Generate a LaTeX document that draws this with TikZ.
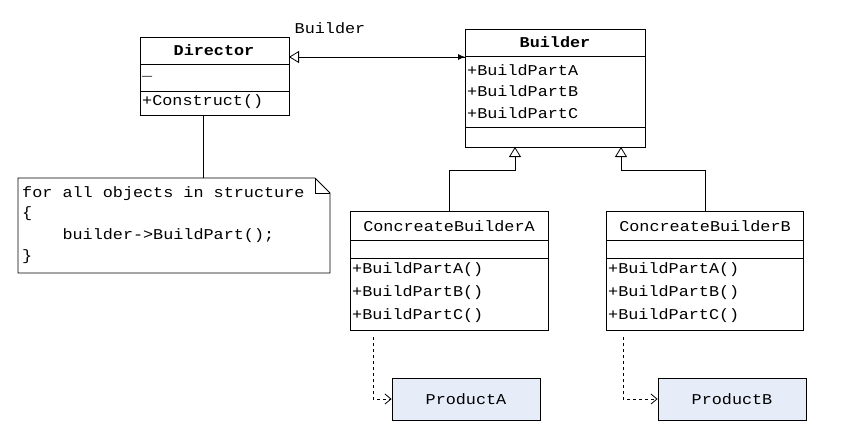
\documentclass[tikz,border=0pt]{standalone}
\usepackage{fontspec}
\setmonofont{Liberation Mono}[FakeStretch=1.12]
\usetikzlibrary{arrows.meta,positioning,shapes.misc}
\definecolor{prodBlue}{RGB}{230,236,248}
\begin{document}
\begin{tikzpicture}[x=1pt,y=-1pt,
    boxStyle/.style={draw, thick, inner sep=0pt, anchor=north west},
    txtStyle/.style={font=\ttfamily\fontsize{15}{17}\selectfont, inner sep=1pt},
    opStyle/.style={txtStyle, anchor=west},
    prodStyle/.style={draw, thick, fill=prodBlue, minimum width=148pt, minimum height=42pt, font=\ttfamily\fontsize{15}{17}\selectfont},
    inherit/.style={thick, -{Triangle[open, length=10pt, width=12pt]}},
    depend/.style={thick, dashed, -{Straight Barb[length=6pt, width=10pt]}}]
    \useasboundingbox (0,0) rectangle (859,437);

    % Director
    \node[boxStyle, minimum width=149pt, minimum height=78pt] (dir) at (140,37) {};
    \draw[thick] (140,64) -- (289,64);
    \draw[thick] (140,91) -- (289,91);
    \node[txtStyle, font=\ttfamily\bfseries\fontsize{15}{17}\selectfont] (dirName) at (214,50) {Director};
    \node[opStyle] (dirAttr) at (141,76) {\_};
    \node[opStyle] (dirOp) at (141,102) {+Construct()};

    % Builder
    \node[boxStyle, minimum width=180pt, minimum height=118pt] (bld) at (465,29) {};
    \draw[thick] (465,56) -- (645,56);
    \draw[thick] (465,127) -- (645,127);
    \node[txtStyle, font=\ttfamily\bfseries\fontsize{15}{17}\selectfont] (bldName) at (555,42) {Builder};
    \node[opStyle] (bldA) at (466,70) {+BuildPartA};
    \node[opStyle] (bldB) at (466,91) {+BuildPartB};
    \node[opStyle] (bldC) at (466,113) {+BuildPartC};
    \node[txtStyle] (assocLbl) at (330,28) {Builder};

    % Note
    \coordinate (n1) at (18,178);
    \coordinate (n2) at (315,178);
    \coordinate (n3) at (330,193);
    \coordinate (n4) at (330,273);
    \coordinate (n5) at (18,273);
    \draw[thick] (n1) -- (n2) -- (n3) -- (n4) -- (n5) -- cycle;
    \draw[thick] (n2) -- (315,193) -- (n3);
    \node[opStyle] (noteL1) at (21,194) {for all objects in structure};
    \node[opStyle] (noteL2) at (21,214) {\{};
    \node[opStyle] (noteL3) at (21,236) {\ \ \ \ builder->BuildPart();};
    \node[opStyle] (noteL4) at (21,257) {\}};
    \coordinate (dirBot) at (203,115);
    \coordinate (noteTop) at (203,178);
    \draw[thick] (dirBot) -- (noteTop);

    % ConcreateBuilderA
    \node[boxStyle, minimum width=198pt, minimum height=119pt] (cba) at (350,211) {};
    \draw[thick] (350,240) -- (548,240);
    \draw[thick] (350,258) -- (548,258);
    \node[txtStyle] (cbaName) at (449,226) {ConcreateBuilderA};
    \node[opStyle] (cbaA) at (351,270) {+BuildPartA()};
    \node[opStyle] (cbaB) at (351,293) {+BuildPartB()};
    \node[opStyle] (cbaC) at (351,316) {+BuildPartC()};

    % ConcreateBuilderB
    \node[boxStyle, minimum width=197pt, minimum height=119pt] (cbb) at (606,211) {};
    \draw[thick] (606,240) -- (803,240);
    \draw[thick] (606,258) -- (803,258);
    \node[txtStyle] (cbbName) at (705,226) {ConcreateBuilderB};
    \node[opStyle] (cbbA) at (607,270) {+BuildPartA()};
    \node[opStyle] (cbbB) at (607,293) {+BuildPartB()};
    \node[opStyle] (cbbC) at (607,316) {+BuildPartC()};

    % Products
    \node[prodStyle] (prodA) at (466,399) {ProductA};
    \node[prodStyle] (prodB) at (732,399) {ProductB};

    % Edges
    \coordinate (dirR) at (289,57);
    \coordinate (bldL) at (465,57);
    \draw[thick, -{Triangle[open, length=10pt, width=12pt]}] (bldL) -- (dirR);
    \draw[thick, -{Latex[length=7pt, width=6pt]}] (300,57) -- (bldL);

    \draw[inherit] (449,211) |- (515,170) -- (515,147);
    \draw[inherit] (705,211) |- (621,170) -- (621,147);

    \draw[depend] (373,337) |- (prodA.west);
    \draw[depend] (623,337) |- (prodB.west);
\end{tikzpicture}
\end{document}
